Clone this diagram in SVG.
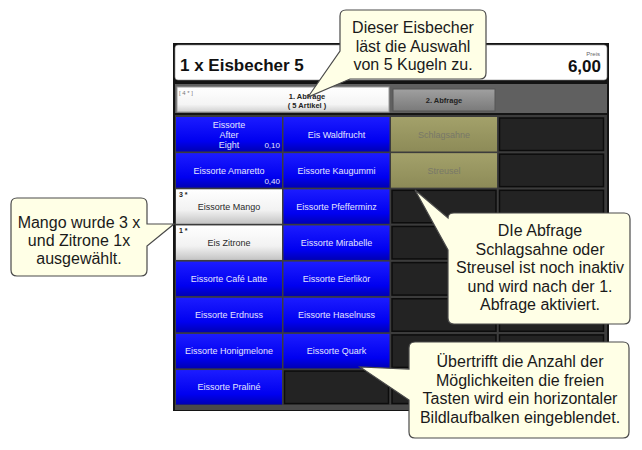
<svg xmlns="http://www.w3.org/2000/svg" width="642" height="450" viewBox="0 0 642 450">
<defs>
<linearGradient id="gBlue" x1="0" y1="0" x2="0" y2="1">
<stop offset="0" stop-color="#1c1cff"/><stop offset="0.7" stop-color="#0000f0"/><stop offset="1" stop-color="#0000b4"/>
</linearGradient>
<linearGradient id="gWhite" x1="0" y1="0" x2="0" y2="1">
<stop offset="0" stop-color="#ffffff"/><stop offset="0.6" stop-color="#f2f2f2"/><stop offset="1" stop-color="#c4c4c4"/>
</linearGradient>
<linearGradient id="gOlive" x1="0" y1="0" x2="0" y2="1">
<stop offset="0" stop-color="#a3a16a"/><stop offset="1" stop-color="#8d8b58"/>
</linearGradient>
<linearGradient id="gTab2" x1="0" y1="0" x2="0" y2="1">
<stop offset="0" stop-color="#a0a0a0"/><stop offset="1" stop-color="#7a7a7a"/>
</linearGradient>
<linearGradient id="gTab1" x1="0" y1="0" x2="0" y2="1">
<stop offset="0" stop-color="#ffffff"/><stop offset="0.7" stop-color="#f4f4f4"/><stop offset="1" stop-color="#d0d0d0"/>
</linearGradient>
</defs>
<style>
text{font-family:"Liberation Sans",Arial,sans-serif}
.blue{fill:url(#gBlue)}
.white{fill:url(#gWhite)}
.olive{fill:url(#gOlive)}
.empty{fill:#232323;stroke:#0c0c0c;stroke-width:1.5}
.ct{font-size:9px;fill:#e4e4ff;text-anchor:middle}
.cw{font-size:9px;fill:#2a2a2a;text-anchor:middle}
.co{font-size:9px;fill:#787868;text-anchor:middle}
.pr{font-size:8px;fill:#e4e4ff;text-anchor:end}
.cnt{font-size:7px;font-weight:bold;fill:#222}
.call{fill:#ffffe6;stroke:#4a4a4a;stroke-width:1.2}
.callt{font-size:16px;fill:#1a1a1a;text-anchor:middle}
.tab{font-size:7.5px;font-weight:bold;fill:#222;text-anchor:middle}
</style>

<g id="panel">
<rect x="173" y="43" width="436" height="368" fill="#141414"/>
<rect x="175" y="45" width="432" height="35" rx="3" fill="#ffffff" stroke="#888" stroke-width="0.6"/>
<text x="180" y="71" font-size="17" font-weight="bold" fill="#111">1 x Eisbecher 5</text>
<text x="600" y="56" font-size="6" fill="#666" text-anchor="end">Preis</text>
<text x="601" y="72" font-size="17" font-weight="bold" fill="#111" text-anchor="end">6,00</text>
<rect x="175" y="84" width="432" height="29" fill="#606060"/>
<rect x="175" y="115" width="432" height="294" fill="#3c3c3c"/>
<rect x="175" y="405" width="432" height="5" fill="#4a4a4a"/>
</g>

<g id="tab1">
<rect x="177" y="87" width="212" height="25" fill="url(#gTab1)" stroke="#9a9a9a" stroke-width="1"/>
<text x="179" y="95" font-size="6" fill="#777">[ 4 * ]</text>
<text x="307" y="99" class="tab">1. Abfrage</text>
<text x="307" y="108" class="tab">( 5 Artikel )</text>
</g>
<g id="tab2">
<rect x="393" y="89" width="102" height="22" fill="url(#gTab2)" stroke="#555" stroke-width="1"/>
<text x="444" y="103" class="tab">2. Abfrage</text>
</g>

<g id="cells">
<g id="c0r0"><rect class="blue" x="176" y="117" width="106" height="34.5"/>
<text class="ct" x="229" y="128">Eissorte</text><text class="ct" x="229" y="138">After</text><text class="ct" x="229" y="148">Eight</text>
<text class="pr" x="280" y="148">0,10</text></g>
<g id="c0r1"><rect class="blue" x="176" y="153.15" width="106" height="34.5"/>
<text class="ct" x="229" y="174">Eissorte Amaretto</text><text class="pr" x="280" y="184">0,40</text></g>
<g id="c0r2"><rect class="white" x="176" y="189.3" width="106" height="34.5"/>
<text class="cnt" x="179" y="197">3 *</text><text class="cw" x="229" y="210">Eissorte Mango</text></g>
<g id="c0r3"><rect class="white" x="176" y="225.45" width="106" height="34.5"/>
<text class="cnt" x="179" y="233">1 *</text><text class="cw" x="229" y="246">Eis Zitrone</text></g>
<g id="c0r4"><rect class="blue" x="176" y="261.6" width="106" height="34.5"/><text class="ct" x="229" y="282">Eissorte Café Latte</text></g>
<g id="c0r5"><rect class="blue" x="176" y="297.75" width="106" height="34.5"/><text class="ct" x="229" y="318">Eissorte Erdnuss</text></g>
<g id="c0r6"><rect class="blue" x="176" y="333.9" width="106" height="34.5"/><text class="ct" x="229" y="354">Eissorte Honigmelone</text></g>
<g id="c0r7"><rect class="blue" x="176" y="370.05" width="106" height="34.5"/><text class="ct" x="229" y="390">Eissorte Praliné</text></g>

<g id="c1r0"><rect class="blue" x="283.5" y="117" width="106" height="34.5"/><text class="ct" x="336.5" y="137.5">Eis Waldfrucht</text></g>
<g id="c1r1"><rect class="blue" x="283.5" y="153.15" width="106" height="34.5"/><text class="ct" x="336.5" y="173.6">Eissorte Kaugummi</text></g>
<g id="c1r2"><rect class="blue" x="283.5" y="189.3" width="106" height="34.5"/><text class="ct" x="336.5" y="209.8">Eissorte Pfefferminz</text></g>
<g id="c1r3"><rect class="blue" x="283.5" y="225.45" width="106" height="34.5"/><text class="ct" x="336.5" y="246">Eissorte Mirabelle</text></g>
<g id="c1r4"><rect class="blue" x="283.5" y="261.6" width="106" height="34.5"/><text class="ct" x="336.5" y="282">Eissorte Eierlikör</text></g>
<g id="c1r5"><rect class="blue" x="283.5" y="297.75" width="106" height="34.5"/><text class="ct" x="336.5" y="318">Eissorte Haselnuss</text></g>
<g id="c1r6"><rect class="blue" x="283.5" y="333.9" width="106" height="34.5"/><text class="ct" x="336.5" y="354">Eissorte Quark</text></g>
<g id="c1r7"><rect class="empty" x="284.5" y="371.05" width="104" height="32.5"/></g>

<g id="c2r0"><rect class="olive" x="391" y="117" width="106" height="34.5"/><text class="co" x="444" y="137.5">Schlagsahne</text></g>
<g id="c2r1"><rect class="olive" x="391" y="153.15" width="106" height="34.5"/><text class="co" x="444" y="173.6">Streusel</text></g>
<g id="c2r2"><rect class="empty" x="392" y="190.3" width="104" height="32.5"/></g>
<g id="c2r3"><rect class="empty" x="392" y="226.45" width="104" height="32.5"/></g>
<g id="c2r4"><rect class="empty" x="392" y="262.6" width="104" height="32.5"/></g>
<g id="c2r5"><rect class="empty" x="392" y="298.75" width="104" height="32.5"/></g>
<g id="c2r6"><rect class="empty" x="392" y="334.9" width="104" height="32.5"/></g>
<g id="c2r7"><rect class="empty" x="392" y="371.05" width="104" height="32.5"/></g>

<g id="c3r0"><rect class="empty" x="499.5" y="118" width="104" height="32.5"/></g>
<g id="c3r1"><rect class="empty" x="499.5" y="154.15" width="104" height="32.5"/></g>
<g id="c3r2"><rect class="empty" x="499.5" y="190.3" width="104" height="32.5"/></g>
<g id="c3r3"><rect class="empty" x="499.5" y="226.45" width="104" height="32.5"/></g>
<g id="c3r4"><rect class="empty" x="499.5" y="262.6" width="104" height="32.5"/></g>
<g id="c3r5"><rect class="empty" x="499.5" y="298.75" width="104" height="32.5"/></g>
<g id="c3r6"><rect class="empty" x="499.5" y="334.9" width="104" height="32.5"/></g>
<g id="c3r7"><rect class="empty" x="499.5" y="371.05" width="104" height="32.5"/></g>
</g>

<g id="callout1">
<path class="call" d="M346,10 H480 Q486,10 486,16 V73 Q486,79 480,79 H350 L308,97 L340,51 V16 Q340,10 346,10 Z"/>
<text class="callt" x="413" y="33">Dieser Eisbecher</text>
<text class="callt" x="413" y="51.5">läst die Auswahl</text>
<text class="callt" x="413" y="70">von 5 Kugeln zu.</text>
</g>
<g id="callout2">
<path class="call" d="M17,198 H141 Q147,198 147,204 V224 L174,224 L147,246 V270 Q147,276 141,276 H17 Q11,276 11,270 V204 Q11,198 17,198 Z"/>
<text class="callt" x="79" y="228">Mango wurde 3 x</text>
<text class="callt" x="79" y="246">und Zitrone 1x</text>
<text class="callt" x="79" y="264">ausgewählt.</text>
</g>
<g id="callout3">
<path class="call" d="M454,213 H624 Q630,213 630,219 V318 Q630,324 624,324 H454 Q448,324 448,318 V250 L415,190 L448,218 Q448,213 454,213 Z"/>
<text class="callt" x="540" y="236">DIe Abfrage</text>
<text class="callt" x="540" y="254.5">Schlagsahne oder</text>
<text class="callt" x="540" y="273">Streusel ist noch inaktiv</text>
<text class="callt" x="540" y="291.5">und wird nach der 1.</text>
<text class="callt" x="540" y="310">Abfrage aktiviert.</text>
</g>
<g id="callout4">
<path class="call" d="M415,342 H623 Q629,342 629,348 V432 Q629,438 623,438 H415 Q409,438 409,432 V400 L360,367 L409,369 V348 Q409,342 415,342 Z"/>
<text class="callt" x="520" y="367">Übertrifft die Anzahl der</text>
<text class="callt" x="520" y="385.5">Möglichkeiten die freien</text>
<text class="callt" x="520" y="404">Tasten wird ein horizontaler</text>
<text class="callt" x="520" y="422.5">Bildlaufbalken eingeblendet.</text>
</g>
</svg>
